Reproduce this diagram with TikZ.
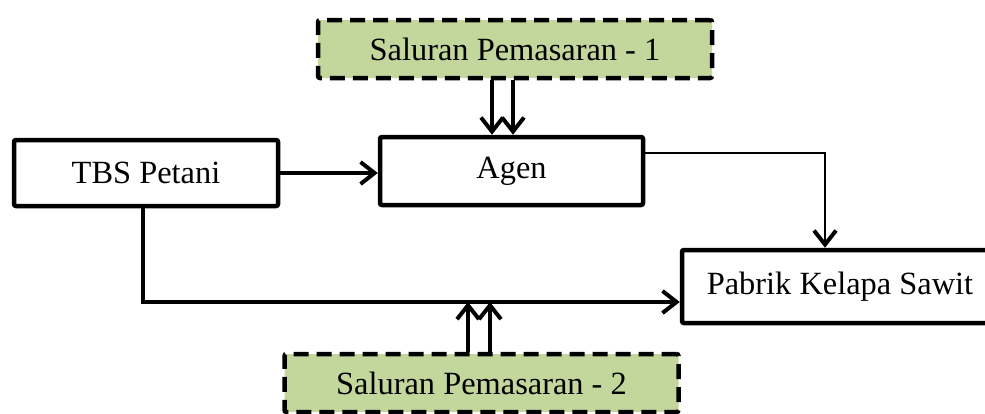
\documentclass[tikz,border=0pt]{standalone}
\usepackage{fontspec}
\setmainfont{Liberation Serif}
\usetikzlibrary{arrows.meta}
\definecolor{channelgreen}{HTML}{C3D69B}
\begin{document}
\begin{tikzpicture}[
    x=0.5pt, y=-0.5pt,
    font=\fontsize{16.2}{19}\selectfont,
    box/.style={draw, line width=2.25pt, rectangle, rounded corners=1pt, align=center}, % plain block
    channel/.style={box, fill=channelgreen, dash pattern=on 7.5pt off 4pt}, % marketing channel
    flow/.style={draw, line width=2pt, -{Straight Barb[length=7pt, width=11pt, line width=2pt]}}
]
\useasboundingbox (0,0) rectangle (985,413);

% Blocks
\node (TBS) [box, minimum width=132pt, minimum height=33pt] at (146,173) {TBS Petani};
\node (Agen) [box, minimum width=131.5pt, minimum height=34pt] at (511.5,171) {Agen};
\node (Pabrik) [box, minimum width=158pt, minimum height=36.5pt] at (840,286.5) {Pabrik Kelapa Sawit};
\node (SP1) [channel, minimum width=197pt, minimum height=29pt] at (515,49) {Saluran Pemasaran - 1};
\node (SP2) [channel, minimum width=197pt, minimum height=29pt] at (481.5,383) {Saluran Pemasaran - 2};

% Bends
\coordinate (bend) at (143,302);
\coordinate (drop) at (825,153);

% Flows
\draw[flow] (TBS.east) -- (TBS.east -| Agen.west);
\draw[flow] (TBS.south -| bend) -- (bend) -- (bend -| Pabrik.west);
\draw[flow, line width=1pt] (Agen.east |- drop) -- (drop) -- (drop |- Pabrik.north);
\draw[flow] ([xshift=-11.5pt]SP1.south) -- ([xshift=-11.5pt]SP1.south |- Agen.north);
\draw[flow] ([xshift=-1pt]SP1.south) -- ([xshift=-1pt]SP1.south |- Agen.north);
\draw[flow] ([xshift=-6.75pt]SP2.north) -- ([xshift=-6.75pt]SP2.north |- bend);
\draw[flow] ([xshift=4.25pt]SP2.north) -- ([xshift=4.25pt]SP2.north |- bend);

\end{tikzpicture}
\end{document}
